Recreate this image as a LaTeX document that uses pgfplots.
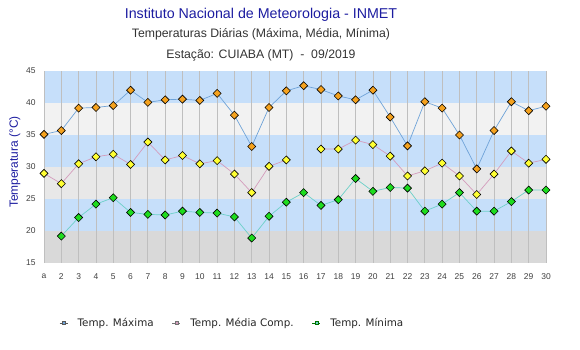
\documentclass[border=0pt]{standalone}
\usepackage{fontspec}
\setmainfont{Liberation Sans}
\newfontfamily\dejavu{DejaVu Sans}
\usepackage{pgfplots}
\pgfplotsset{compat=1.18}
\definecolor{titleblue}{HTML}{1C1CA0}
\definecolor{bandblue}{HTML}{C6DFFA}
\definecolor{maxline}{HTML}{6FA3D8}
\definecolor{meanline}{HTML}{D49CBC}
\definecolor{minline}{HTML}{6CD0C8}
\definecolor{maxfill}{HTML}{F5A21E}
\definecolor{meanfill}{HTML}{FFFF33}
\definecolor{minfill}{HTML}{1EDC1E}
\begin{document}
\begin{tikzpicture}
\path (0bp,0bp) rectangle (580bp,350bp);
\node[anchor=base, font=\fontsize{14.3}{16}\selectfont, text=titleblue, inner sep=0pt] at (261bp,331.5bp) {Instituto Nacional de Meteorologia - INMET};
\node[anchor=base, font=\fontsize{12.3}{14}\selectfont, text=black!80, inner sep=0pt] at (261bp,312.5bp) {Temperaturas Diárias (Máxima, Média, Mínima)};
\node[anchor=base, font=\fontsize{12.3}{14}\selectfont, text=black!80, inner sep=0pt] at (261bp,291bp) {Estação: CUIABA (MT)\ \ -\ \ 09/2019};
\begin{axis}[
  set layers,
  at={(44bp,87bp)}, anchor=south west,
  scale only axis, width=502bp, height=192bp,
  xmin=1, xmax=30, ymin=15, ymax=45,
  xtick={1,...,30},
  xticklabels={a,2,3,4,5,6,7,8,9,10,11,12,13,14,15,16,17,18,19,20,21,22,23,24,25,26,27,28,29,30},
  ytick={15,20,25,30,35,40,45},
  /pgf/number format/assume math mode=true,
  tick label style={font=\fontsize{8.5}{10}\selectfont, text=black!75},
  yticklabel style={xshift=-5bp},
  xticklabel style={yshift=-7bp},
  major tick length=0pt,
  axis line style={draw=none},
  xmajorgrids, ymajorgrids=false,
  grid style={draw=black!25, line width=0.8pt},
  ylabel={Temperatura (°C)},
  ylabel style={at={(axis description cs:-0.058,0.526)}, anchor=center, font=\fontsize{12}{14}\selectfont, text=titleblue},
  unbounded coords=jump,
  clip=false,
  legend columns=3,
  legend style={at={(axis description cs:0.030,-0.3125)}, anchor=west, draw=none, fill=none, inner sep=0pt,
    font=\dejavu\fontsize{10.4}{12}\selectfont, text=black!85,
    /tikz/every odd column/.append style={column sep=9bp},
    /tikz/every even column/.append style={column sep=17.5bp},
    nodes={inner sep=0.8bp}},
  legend image code/.code={
    \draw[mark=none,#1,line width=0.6pt] (0bp,0bp) -- (8bp,0bp);
    \draw[#1, mark size=1.5pt, mark options={line width=0.4pt}] plot coordinates {(4bp,0bp)};
  },
  every axis plot/.append style={mark=square*, mark size=2.85pt, line width=0.7pt},
]
\begin{pgfonlayer}{axis background}
\fill[black!15] (axis cs:1,15) rectangle (axis cs:30,20);
\fill[bandblue] (axis cs:1,20) rectangle (axis cs:30,25);
\fill[black!9] (axis cs:1,25) rectangle (axis cs:30,30);
\fill[bandblue] (axis cs:1,30) rectangle (axis cs:30,35);
\fill[black!5] (axis cs:1,35) rectangle (axis cs:30,40);
\fill[bandblue] (axis cs:1,40) rectangle (axis cs:30,45);
\end{pgfonlayer}
\addplot[color=maxline,
  mark options={fill=maxfill, draw=black, line width=0.6pt, rotate=45},
  legend image post style={draw=black!65}] coordinates {
(1,35.1)(2,35.7)(3,39.2)(4,39.3)(5,39.6)(6,42.0)(7,40.1)(8,40.5)(9,40.6)(10,40.4)
(11,41.5)(12,38.1)(13,33.2)(14,39.3)(15,41.9)(16,42.7)(17,42.1)(18,41.1)(19,40.5)(20,42.0)
(21,37.8)(22,33.3)(23,40.2)(24,39.2)(25,35.0)(26,29.7)(27,35.7)(28,40.2)(29,38.8)(30,39.5)};
\addlegendentry{Temp. Máxima}
\addplot[color=meanline,
  mark options={fill=meanfill, draw=black, line width=0.6pt, rotate=45},
  legend image post style={draw=black!55}] coordinates {
(1,29.0)(2,27.4)(3,30.5)(4,31.6)(5,32.0)(6,30.4)(7,33.9)(8,31.1)(9,31.8)(10,30.5)
(11,31.0)(12,28.9)(13,26.0)(14,30.1)(15,31.1)(16,nan)(17,32.8)(18,32.8)(19,34.2)(20,33.5)
(21,31.7)(22,28.6)(23,29.4)(24,30.6)(25,28.6)(26,25.7)(27,28.9)(28,32.5)(29,30.6)(30,31.2)};
\addlegendentry{Temp. Média Comp.}
\addplot[color=minline,
  mark options={fill=minfill, draw=black, line width=0.6pt, rotate=45},
  legend image post style={draw=green!45!black}] coordinates {
(1,nan)(2,19.2)(3,22.1)(4,24.2)(5,25.2)(6,22.9)(7,22.6)(8,22.5)(9,23.1)(10,22.9)
(11,22.8)(12,22.2)(13,18.9)(14,22.3)(15,24.5)(16,26.0)(17,24.0)(18,24.9)(19,28.2)(20,26.2)
(21,26.8)(22,26.7)(23,23.1)(24,24.2)(25,26.0)(26,23.1)(27,23.1)(28,24.6)(29,26.4)(30,26.4)};
\addlegendentry{Temp. Mínima}
\end{axis}
\end{tikzpicture}
\end{document}
